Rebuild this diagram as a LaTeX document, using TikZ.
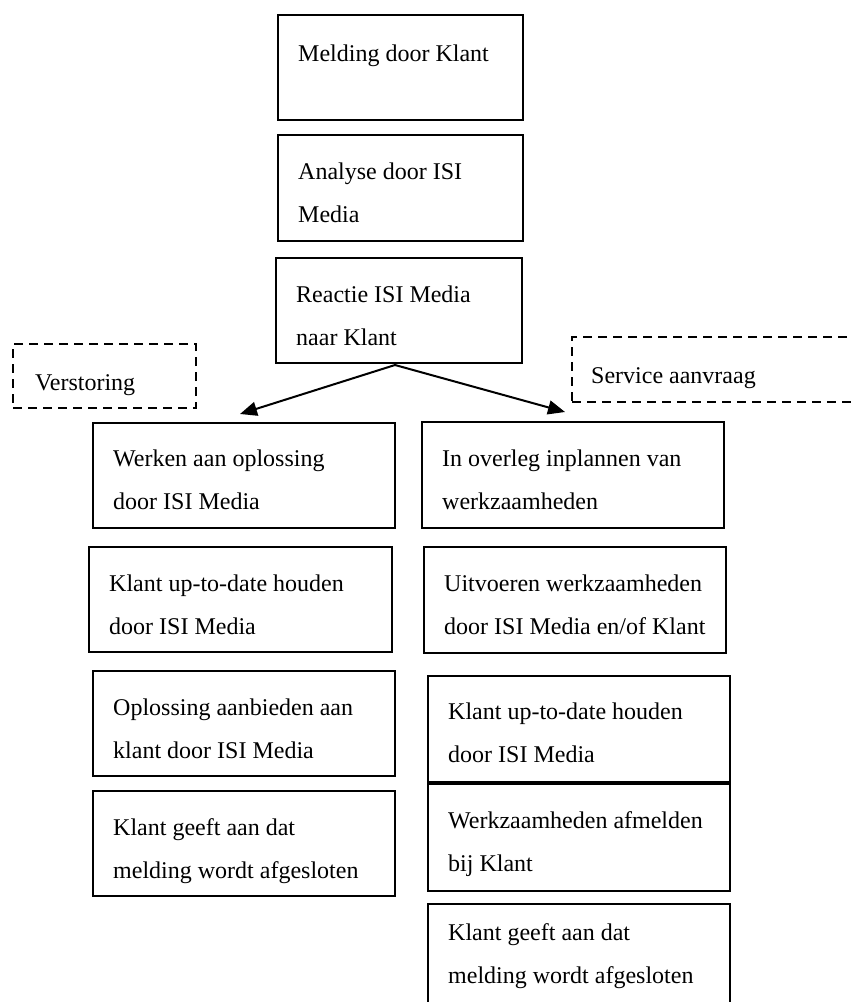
\documentclass[tikz,border=0pt]{standalone}
\usepackage{fontspec}
\setmainfont{Liberation Serif}
\usetikzlibrary{arrows.meta,calc}
\newcommand\flowbox[7]{%
  \node[box,minimum width=#4pt,minimum height=#5pt] (#1) at (#2,#3) {};
  \node[txt] (#1t) at ($(#1.north west)+(21,#6)$) {#7};}
\begin{document}
\begin{tikzpicture}[x=1pt,y=-1pt,
  box/.style={draw,line width=1.6pt,rectangle,inner sep=0pt,anchor=north west},
  dbox/.style={draw,line width=2pt,dash pattern=on 9pt off 6pt,rectangle,inner sep=0pt,anchor=north west},
  txt/.style={font=\fontsize{24}{43}\selectfont,align=left,inner sep=0pt,anchor=base west},
  arr/.style={line width=2pt,-{Triangle[length=17pt,width=14pt]}}]
\useasboundingbox (0,0) rectangle (853,1002);
% top column
\flowbox{b1}{277}{14}{245}{105}{47}{Melding door Klant}
\flowbox{b2}{277}{134}{245}{106}{88}{Analyse door ISI\\Media}
\flowbox{b3}{275}{257}{246}{105}{88}{Reactie ISI Media\\naar Klant}
% left column
\flowbox{l1}{92}{422}{302}{105}{87}{Werken aan oplossing\\door ISI Media}
\flowbox{l2}{88}{546}{303}{105}{88}{Klant up-to-date houden\\door ISI Media}
\flowbox{l3}{92}{670}{302}{105}{88}{Oplossing aanbieden aan\\klant door ISI Media}
\flowbox{l4}{92}{790}{302}{105}{88}{Klant geeft aan dat\\melding wordt afgesloten}
% right column
\flowbox{r1}{421}{421}{302}{106}{88}{In overleg inplannen van\\werkzaamheden}
\flowbox{r2}{423}{546}{302}{106}{88}{Uitvoeren werkzaamheden\\door ISI Media en/of Klant}
\flowbox{r3}{427}{675}{302}{106}{87}{Klant up-to-date houden\\door ISI Media}
\flowbox{r4}{427}{783}{302}{107}{88}{Werkzaamheden afmelden\\bij Klant}
\flowbox{r5}{427}{903}{302}{130}{80}{Klant geeft aan dat\\melding wordt afgesloten}
% dashed labels
\node[dbox,minimum width=183pt,minimum height=64pt] (vs) at (12,343) {};
\node[txt] (vst) at (35,390) {Verstoring};
\node[dbox,minimum width=300pt,minimum height=65pt] (sa) at (571,336) {};
\node[txt] (sat) at (591,383) {Service aanvraag};
% arrows
\coordinate (split) at (395,365);
\coordinate (lt) at (240,414);
\coordinate (rt) at (565,412);
\draw[arr] (split) -- (lt);
\draw[arr] (split) -- (rt);
\end{tikzpicture}
\end{document}
